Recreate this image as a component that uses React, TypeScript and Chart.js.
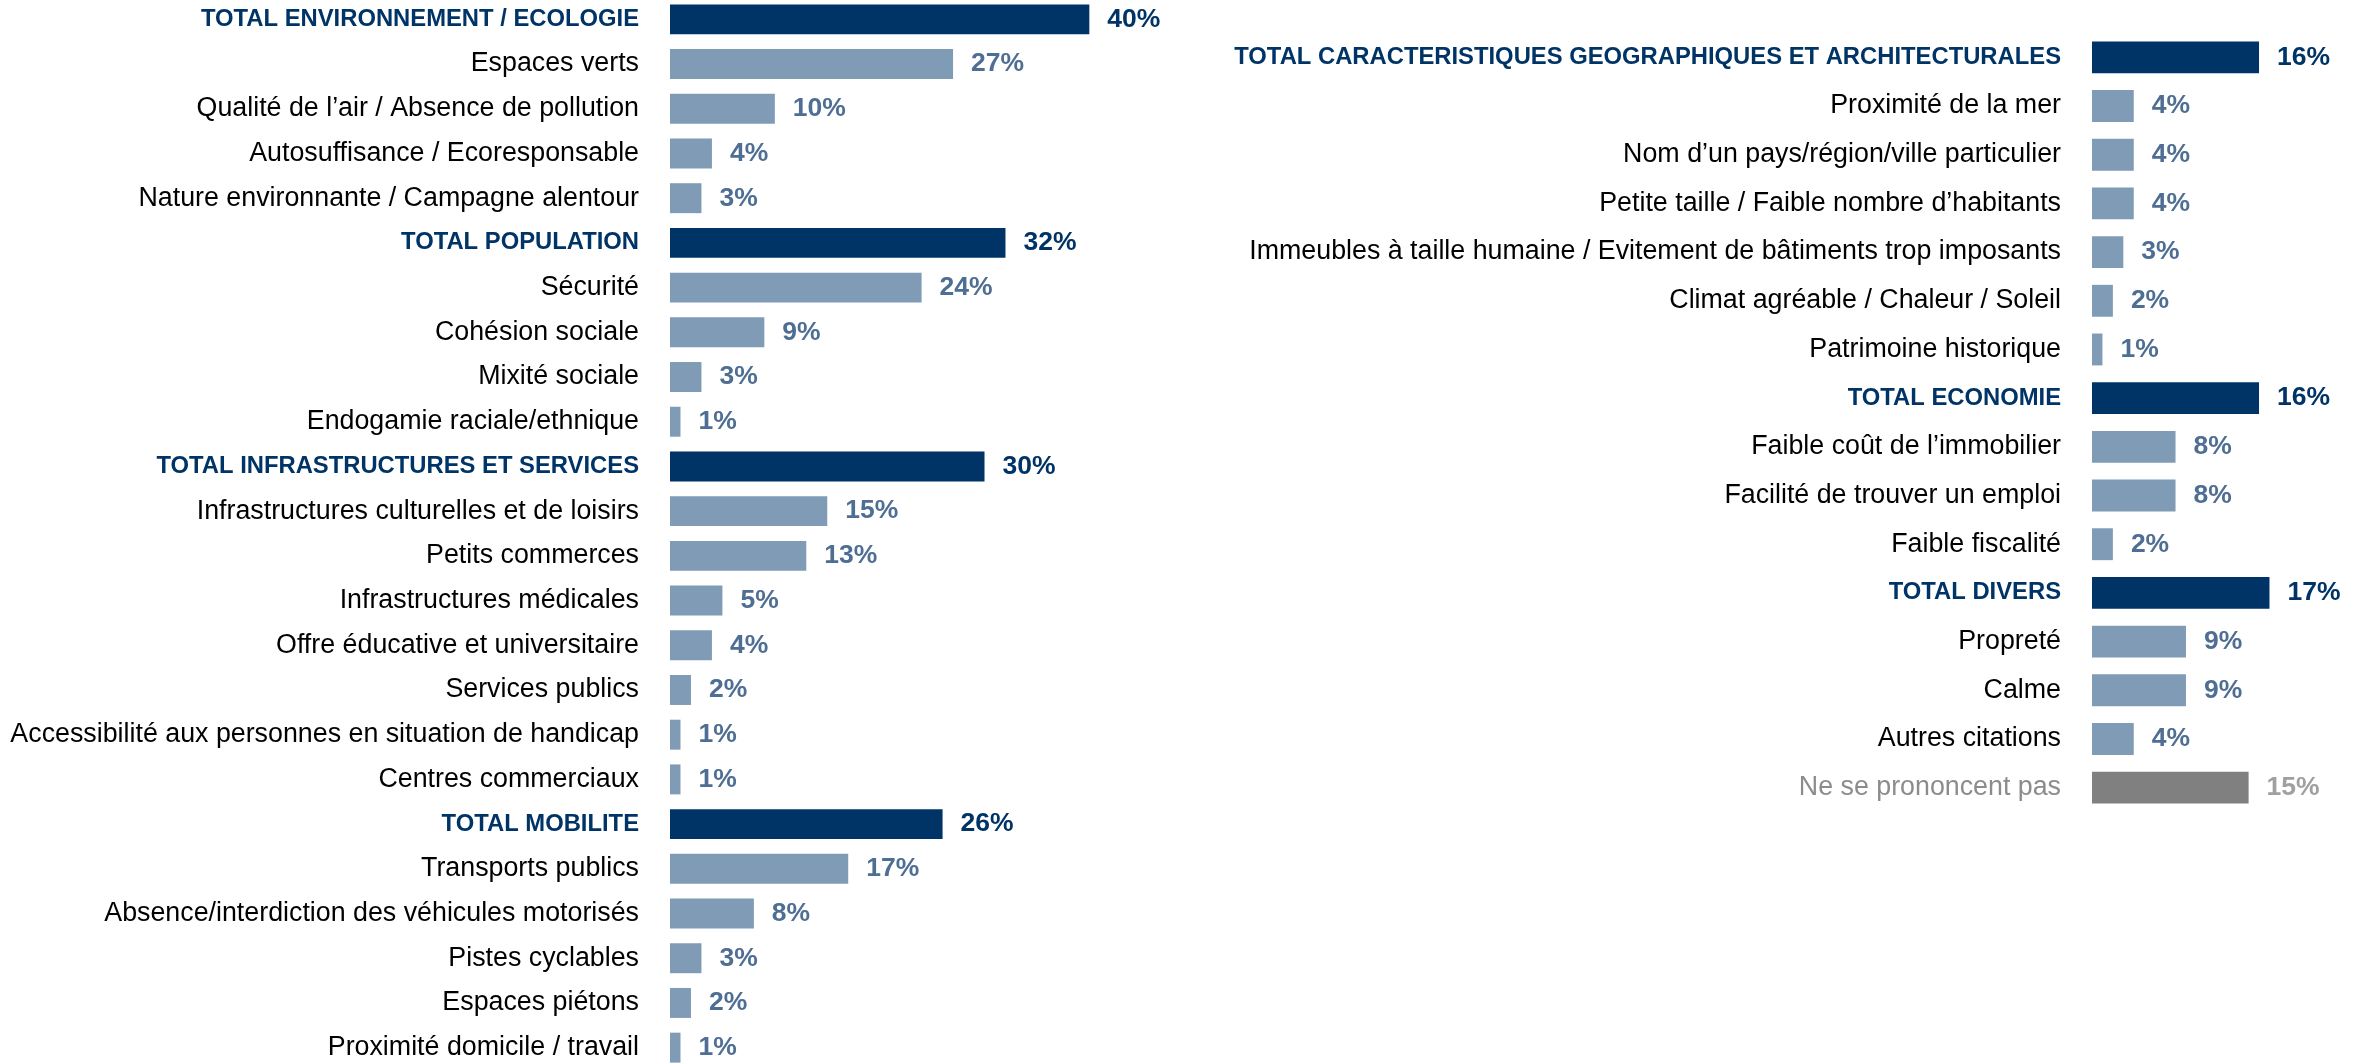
import React, { useEffect, useRef } from "react";
import { Chart, registerables } from "chart.js";

Chart.register(...registerables);

// ---------- DATA ----------
const leftCategories = [
  "TOTAL ENVIRONNEMENT / ECOLOGIE",
  "Espaces verts",
  "Qualité de l’air / Absence de pollution",
  "Autosuffisance / Ecoresponsable",
  "Nature environnante / Campagne alentour",
  "TOTAL POPULATION",
  "Sécurité",
  "Cohésion sociale",
  "Mixité sociale",
  "Endogamie raciale/ethnique",
  "TOTAL INFRASTRUCTURES ET SERVICES",
  "Infrastructures culturelles et de loisirs",
  "Petits commerces",
  "Infrastructures médicales",
  "Offre éducative et universitaire",
  "Services publics",
  "Accessibilité aux personnes en situation de handicap",
  "Centres commerciaux",
  "TOTAL MOBILITE",
  "Transports publics",
  "Absence/interdiction des véhicules motorisés",
  "Pistes cyclables",
  "Espaces piétons",
  "Proximité domicile / travail",
];
const leftValues = [40, 27, 10, 4, 3, 32, 24, 9, 3, 1, 30, 15, 13, 5, 4, 2, 1, 1, 26, 17, 8, 3, 2, 1];
const leftTypes = [
  "total", "item", "item", "item", "item",
  "total", "item", "item", "item", "item",
  "total", "item", "item", "item", "item", "item", "item", "item",
  "total", "item", "item", "item", "item", "item",
];

const rightCategories = [
  "TOTAL CARACTERISTIQUES GEOGRAPHIQUES ET ARCHITECTURALES",
  "Proximité de la mer",
  "Nom d’un pays/région/ville particulier",
  "Petite taille / Faible nombre d’habitants",
  "Immeubles à taille humaine / Evitement de bâtiments trop imposants",
  "Climat agréable / Chaleur / Soleil",
  "Patrimoine historique",
  "TOTAL ECONOMIE",
  "Faible coût de l’immobilier",
  "Facilité de trouver un emploi",
  "Faible fiscalité",
  "TOTAL DIVERS",
  "Propreté",
  "Calme",
  "Autres citations",
  "Ne se prononcent pas",
];
const rightValues = [16, 4, 4, 4, 3, 2, 1, 16, 8, 8, 2, 17, 9, 9, 4, 15];
const rightTypes = [
  "total", "item", "item", "item", "item", "item", "item",
  "total", "item", "item", "item",
  "total", "item", "item", "item", "nsp",
];

// ---------- STYLE ----------
const FONT = "'Liberation Sans', Arial, sans-serif";
const FONT_SIZE = 26.8;
const TOTAL_FONT_SIZE = 23.8;
const VALUE_FONT_SIZE = 26.5;
const NAVY = "#003366";
const LIGHT_BAR = "#7F9BB6";
const LIGHT_TEXT = "#4E6E94";
const GREY_BAR = "#808080";
const GREY_TEXT = "#A0A0A0";
const GREY_LABEL = "#8C8C8C";

const barColor = (t: string) => (t === "total" ? NAVY : t === "nsp" ? GREY_BAR : LIGHT_BAR);
const labelColor = (t: string) => (t === "total" ? NAVY : t === "nsp" ? GREY_LABEL : "#000000");
const valueColor = (t: string) => (t === "total" ? NAVY : t === "nsp" ? GREY_TEXT : LIGHT_TEXT);

const valueLabels = {
  id: "valueLabels",
  afterDatasetsDraw(chart: any, _args: any, opts: any) {
    const { ctx } = chart;
    const meta = chart.getDatasetMeta(0);
    const data = chart.data.datasets[0].data;
    const types: string[] = opts.types || [];
    meta.data.forEach((bar: any, i: number) => {
      ctx.save();
      ctx.font = `bold ${VALUE_FONT_SIZE}px ${FONT}`;
      ctx.fillStyle = valueColor(types[i]);
      ctx.textAlign = "left";
      ctx.textBaseline = "middle";
      ctx.fillText(`${data[i]}%`, bar.x + 18, bar.y);
      ctx.restore();
    });
  },
};

type BarProps = {
  categories: string[];
  values: number[];
  types: string[];
  width: number;
  height: number;
  axisWidth: number;
  max: number;
  barPct: number;
  style: React.CSSProperties;
};

function BarChart({ categories, values, types, width, height, axisWidth, max, barPct, style }: BarProps) {
  const ref = useRef<HTMLCanvasElement | null>(null);
  useEffect(() => {
    if (!ref.current) return;
    const chart = new Chart(ref.current, {
      type: "bar",
      data: {
        labels: categories,
        datasets: [
          {
            data: values,
            backgroundColor: types.map(barColor),
            borderWidth: 0,
            categoryPercentage: 1,
            barPercentage: barPct,
          },
        ],
      },
      options: {
        indexAxis: "y",
        animation: false,
        responsive: false,
        maintainAspectRatio: false,
        layout: { padding: 0 },
        plugins: {
          legend: { display: false },
          tooltip: { enabled: false },
          valueLabels: { types },
        } as any,
        scales: {
          x: { display: false, min: 0, max },
          y: {
            border: { display: false },
            grid: { display: false, drawTicks: false },
            afterFit: (scale: any) => {
              scale.width = axisWidth;
              scale.paddingTop = 0;
              scale.paddingBottom = 0;
            },
            ticks: {
              padding: 31,
              autoSkip: false,
              color: (c: any) => labelColor(types[c.index]),
              font: (c: any) =>
                types[c.index] === "total"
                  ? { family: FONT, size: TOTAL_FONT_SIZE, weight: "bold" }
                  : { family: FONT, size: FONT_SIZE, weight: "normal" },
            },
          },
        },
      },
      plugins: [valueLabels],
    });
    return () => chart.destroy();
  }, []);
  return (
    <canvas
      ref={ref}
      width={width}
      height={height}
      style={{ position: "absolute", width, height, ...style }}
    />
  );
}

export default function App() {
  return (
    <div
      style={{
        position: "fixed",
        left: 0,
        top: 0,
        width: 2369,
        height: 1064,
        overflow: "hidden",
        background: "#ffffff",
      }}
    >
      <BarChart
        categories={leftCategories}
        values={leftValues}
        types={leftTypes}
        width={1299}
        height={1073}
        axisWidth={670}
        max={60}
        barPct={0.67}
        style={{ left: 0, top: -3 }}
      />
      <BarChart
        categories={rightCategories}
        values={rightValues}
        types={rightTypes}
        width={1253}
        height={779}
        axisWidth={992}
        max={25}
        barPct={0.655}
        style={{ left: 1100, top: 33 }}
      />
    </div>
  );
}
